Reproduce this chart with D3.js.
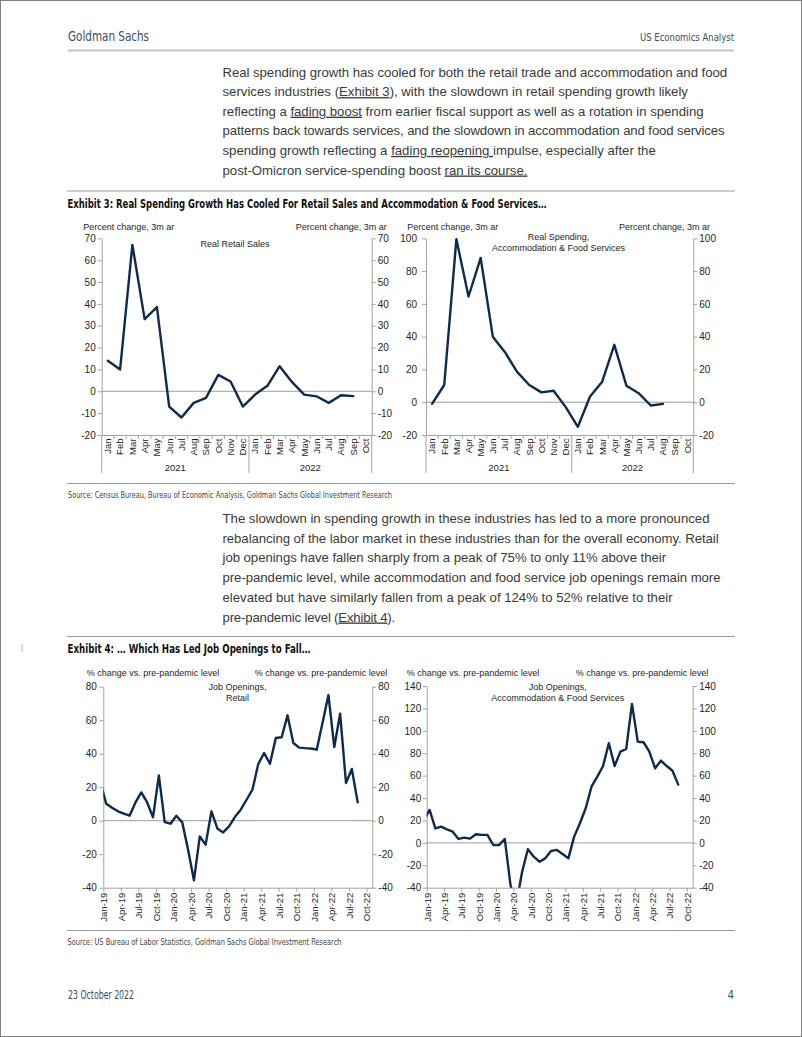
<!DOCTYPE html>
<html><head><meta charset="utf-8">
<script src="https://cdn.jsdelivr.net/npm/d3@7"></script>
<style>
html,body{margin:0;padding:0;background:#fff;}
svg{display:block;}
.para{font-family:"Liberation Sans",Arial,sans-serif;font-size:13.2px;fill:#3a3a3a;}
.cond{font-family:"Liberation Sans Narrow","DejaVu Sans Condensed","Roboto Condensed","Liberation Sans",sans-serif;}
.chart text{font-family:"Liberation Sans",Arial,sans-serif;font-size:9px;fill:#1e1e1e;}
.chart .yax .tick text{font-size:10px;}
.chart .xax .tick text{font-size:9.5px;}
.chart text.yr{font-size:9.5px;}
</style></head><body>
<svg id="page" width="802" height="1037"></svg>
<script>
// ---------- DATA ----------
const ex3Months = ["Jan","Feb","Mar","Apr","May","Jun","Jul","Aug","Sep","Oct","Nov","Dec",
                   "Jan","Feb","Mar","Apr","May","Jun","Jul","Aug","Sep","Oct"];
const ex3Years = ["2021","2022"];
// Real retail sales, % change 3m ar, Jan-21 .. Sep-22
const retailSales = [14, 10, 67, 33, 38.5, -7, -12, -5.3, -3, 7.5, 4.5, -7,
                     -1.5, 2.5, 11.5, 4.3, -1.5, -2.3, -5.3, -1.8, -2.2];
// Real spending, accommodation & food services, Jan-21 .. Aug-22
const accomSpending = [-1, 10.5, 99.5, 64.5, 88, 40, 30.5, 18.5, 10.5, 6, 7, -3,
                       -15, 3.5, 12.5, 35, 10, 5.5, -2, -1];
const retailSalesTicks = [-20,-10,0,10,20,30,40,50,60,70];
const accomSpendTicks = [-20,0,20,40,60,80,100];

const ex4TickLabels = ["Jan-19","Apr-19","Jul-19","Oct-19","Jan-20","Apr-20","Jul-20","Oct-20",
                       "Jan-21","Apr-21","Jul-21","Oct-21","Jan-22","Apr-22","Jul-22","Oct-22"];
// Job openings vs pre-pandemic level, monthly Dec-18 .. Aug-22
const retailJobs = [23, 10.1, 7.8, 5.6, 4.2, 3, 10.9, 16.9, 10.9, 2, 27, -0.8, -1.8,
                    3, -1, -17.3, -35.6, -9.4, -14.3, 5.6, -4.6, -7, -3.4, 2.2, 6.6,
                    12.5, 18.5, 33.8, 40.4, 34, 49.4, 49.8, 62.9, 46.4, 43.6, 43.3, 43.1,
                    42.4, 58.7, 75, 44, 63.9, 22.5, 30.9, 11];
const accomJobs = [20.4, 29.4, 13, 14.5, 12.1, 10, 3.5, 4.7, 3.8, 7.7, 7.1, 7.1, -1.9,
                   -2, 3.5, -38, -55, -25.7, -5.7, -12.3, -16.8, -13.8, -7.2, -6.3, -9.9,
                   -13.8, 5.6, 17.5, 30.9, 50.2, 59.1, 68.6, 88.9, 68.6, 81.4, 83.8, 124,
                   90.3, 89.8, 81.4, 66.6, 73.4, 68.6, 64.4, 52];
const retailJobsTicks = [-40,-20,0,20,40,60,80];
const accomJobsTicks = [-40,-20,0,20,40,60,80,100,120,140];

// ---------- PAGE ----------
const svg = d3.select("#page");
const NAVY = "#3b4d68", LINE = "#0e2b4d", AX = "#a3a3a3";

svg.append("rect").attr("x",0.5).attr("y",0.5).attr("width",801).attr("height",1036)
  .attr("fill","none").attr("stroke","#808080");

function ctext(x,y,t,size,w,opts={}){
  const el = svg.append("text").attr("class","cond").attr("x",x).attr("y",y).text(t)
    .style("font-size",size+"px").attr("fill",opts.fill||"#111")
    .attr("text-anchor",opts.anchor||"start");
  if(opts.bold) el.style("font-weight","bold");
  if(w) el.attr("textLength",w).attr("lengthAdjust","spacingAndGlyphs");
  return el;
}
ctext(68,40.5,"Goldman Sachs",13.5,81,{fill:NAVY});
ctext(734,41,"US Economics Analyst",11,94,{fill:NAVY,anchor:"end"});
svg.append("line").attr("x1",68).attr("x2",734).attr("y1",50.5).attr("y2",50.5)
  .attr("stroke","#c4c4c4").attr("stroke-width",2);
ctext(68,999,"23 October 2022",11.5,66,{fill:NAVY});
ctext(734,999,"4",11.5,null,{fill:NAVY,anchor:"end"});

function para(lines,x,y0,lh){
  lines.forEach((ln,i)=>{
    const t = svg.append("text").attr("class","para").attr("x",x).attr("y",y0+i*lh);
    let n = 0;
    ln.s.forEach(seg=>{
      const ts = t.append("tspan").text(seg[0]);
      n += seg[0].length;
      if(seg[1]) ts.style("text-decoration","underline");
    });
    if(ln.w){
      const nat = t.node().getComputedTextLength();
      const ls = ((ln.w - x) - nat) / n;
      t.style("letter-spacing", ls.toFixed(3)+"px");
    }
  });
}
para([
 {s:[["Real spending growth has cooled for both the retail trade and accommodation and food"]],w:727},
 {s:[["services industries ("],["Exhibit 3",1],["), with the slowdown in retail spending growth likely"]]},
 {s:[["reflecting a "],["fading boost",1],[" from earlier fiscal support as well as a rotation in spending"]],w:703.5},
 {s:[["patterns back towards services, and the slowdown in accommodation and food services"]],w:724.5},
 {s:[["spending growth reflecting a "],["fading reopening ",1],["impulse, especially after the"]]},
 {s:[["post-Omicron service-spending boost "],["ran its course.",1]]}
],222.5,76.5,19.6);

svg.append("line").attr("x1",67).attr("x2",735).attr("y1",191).attr("y2",191).attr("stroke","#9a9a9a").attr("stroke-width",1.2);
ctext(67.5,207.5,"Exhibit 3: Real Spending Growth Has Cooled For Retail Sales and Accommodation & Food Services…",12.5,479,{bold:true});
svg.append("line").attr("x1",67).attr("x2",735).attr("y1",483.5).attr("y2",483.5).attr("stroke","#9a9a9a").attr("stroke-width",1.2);
ctext(68,497.5,"Source: Census Bureau, Bureau of Economic Analysis, Goldman Sachs Global Investment Research",8.5,324,{fill:"#444"});

para([
 {s:[["The slowdown in spending growth in these industries has led to a more pronounced"]],w:709.5},
 {s:[["rebalancing of the labor market in these industries than for the overall economy. Retail"]],w:718.5},
 {s:[["job openings have fallen sharply from a peak of 75% to only 11% above their"]],w:666},
 {s:[["pre-pandemic level, while accommodation and food service job openings remain more"]],w:720.5},
 {s:[["elevated but have similarly fallen from a peak of 124% to 52% relative to their"]],w:672.5},
 {s:[["pre-pandemic level ("],["Exhibit 4",1],[")."]],w:395}
],222.5,523,19.7);

svg.append("line").attr("x1",67).attr("x2",735).attr("y1",636.5).attr("y2",636.5).attr("stroke","#9a9a9a").attr("stroke-width",1.2);
svg.append("line").attr("x1",22).attr("x2",22).attr("y1",644).attr("y2",652).attr("stroke","#b0b0b0").attr("stroke-width",1);
ctext(67.5,652.5,"Exhibit 4: … Which Has Led Job Openings to Fall…",12.5,243,{bold:true});
svg.append("line").attr("x1",67).attr("x2",735).attr("y1",930.5).attr("y2",930.5).attr("stroke","#9a9a9a").attr("stroke-width",1.2);
ctext(67.5,945,"Source: US Bureau of Labor Statistics, Goldman Sachs Global Investment Research",8.5,274,{fill:"#444"});

// ---------- CHART HELPERS ----------
function styleAxis(sel){
  sel.select(".domain").attr("stroke",AX).attr("stroke-width",1);
  sel.selectAll(".tick line").attr("stroke",AX);
  sel.selectAll(".tick text").attr("fill","#1e1e1e");
}
const fmt = d => String(d);
function yAxes(g,y,x0,x1,ticks,padL,padR){
  g.append("g").attr("class","yax").attr("transform",`translate(${x0},0)`)
    .call(d3.axisLeft(y).tickValues(ticks).tickFormat(fmt).tickSize(4).tickPadding(padL).tickSizeOuter(0)).call(styleAxis);
  g.append("g").attr("class","yax").attr("transform",`translate(${x1},0)`)
    .call(d3.axisRight(y).tickValues(ticks).tickFormat(fmt).tickSize(4).tickPadding(padR).tickSizeOuter(0)).call(styleAxis);
  g.append("line").attr("x1",x0).attr("x2",x1).attr("y1",y(0)).attr("y2",y(0))
    .attr("stroke","#9c9c9c").attr("stroke-width",1);
}
function titles(g,c){
  g.append("text").attr("x",c.tl[0]).attr("y",c.tl[1]).text(c.axisTitle);
  g.append("text").attr("x",c.tr[0]).attr("y",c.tr[1]).attr("text-anchor","end").text(c.axisTitle);
  c.title.forEach((t,i)=>g.append("text").attr("x",c.tc[0]).attr("y",c.tc[1]+i*c.tc[2])
    .attr("text-anchor","middle").text(t));
}

// Exhibit 3 style (category axis with year groups)
function catChart(c){
  const g = svg.append("g").attr("class","chart");
  const x = d3.scaleBand().domain(d3.range(ex3Months.length)).range([c.x0,c.x1]);
  const y = d3.scaleLinear().domain(c.yd).range([c.yb,c.yt]);
  yAxes(g,y,c.x0,c.x1,c.ticks,c.padL,c.padR);
  const xa = g.append("g").attr("class","xax").attr("transform",`translate(0,${c.yb})`)
    .call(d3.axisBottom(x).tickSize(0).tickSizeOuter(0).tickFormat(i=>ex3Months[i])).call(styleAxis);
  xa.selectAll(".tick text").attr("transform","rotate(-90)").attr("x",-3.5).attr("y",0)
    .attr("dy","0.35em").style("text-anchor","end");
  const bounds = d3.range(ex3Months.length+1);
  g.selectAll("line.bt").data(bounds).join("line").attr("class","bt")
    .attr("x1",i=>i<ex3Months.length?x(i):c.x1).attr("x2",i=>i<ex3Months.length?x(i):c.x1)
    .attr("y1",c.yb).attr("y2",i=>(i%12===0||i===ex3Months.length)?c.yg:c.yb+4)
    .attr("stroke",AX);
  ex3Years.forEach((yr,k)=>{
    const a = x(k*12), b = k===0? x(12) : c.x1;
    g.append("text").attr("class","yr").attr("x",(a+b)/2).attr("y",c.yg-2).attr("text-anchor","middle").text(yr);
  });
  titles(g,c);
  g.append("path").datum(c.data).attr("fill","none").attr("stroke",LINE).attr("stroke-width",2.4)
    .attr("stroke-linejoin","round").attr("stroke-linecap","round")
    .attr("d",d3.line().x((d,i)=>x(i)+x.bandwidth()/2).y(d=>y(d)));
}

// Exhibit 4 style (monthly date axis, Dec-18 first value)
function dateChart(c){
  const g = svg.append("g").attr("class","chart");
  const x = d3.scaleLinear().domain([0,46]).range([c.x0,c.x1]);
  const y = d3.scaleLinear().domain(c.yd).range([c.yb,c.yt]);
  yAxes(g,y,c.x0,c.x1,c.ticks,c.padL,c.padR);
  const xa = g.append("g").attr("class","xax").attr("transform",`translate(0,${c.yb})`)
    .call(d3.axisBottom(x).tickValues(d3.range(0,46,3)).tickSize(4).tickSizeOuter(0)
      .tickFormat((d,i)=>ex4TickLabels[i])).call(styleAxis);
  xa.selectAll(".tick text").attr("transform","rotate(-90)").attr("x",-5).attr("y",0)
    .attr("dy","0.35em").style("text-anchor","end");
  titles(g,c);
  const id = "clip"+c.id;
  g.append("clipPath").attr("id",id).append("rect")
    .attr("x",c.x0).attr("y",c.yt-5).attr("width",c.x1-c.x0).attr("height",c.yb-c.yt+5);
  g.append("path").datum(c.data).attr("clip-path",`url(#${id})`)
    .attr("fill","none").attr("stroke",LINE).attr("stroke-width",2.4)
    .attr("stroke-linejoin","round").attr("stroke-linecap","round")
    .attr("d",d3.line().x((d,i)=>x(i-1+0.5)).y(d=>y(d)));
}

catChart({data:retailSales,x0:101.7,x1:371.7,yb:435,yt:238.3,yd:[-20,70],ticks:retailSalesTicks,
  yg:473,padL:2,padR:2,axisTitle:"Percent change, 3m ar",tl:[83.3,229.5],tr:[386.7,229.5],
  title:["Real Retail Sales"],tc:[235,246.5,0]});
catChart({data:accomSpending,x0:426,x1:693.3,yb:435,yt:238.3,yd:[-20,100],ticks:accomSpendTicks,
  yg:473,padL:5,padR:2,axisTitle:"Percent change, 3m ar",tl:[407.3,229.5],tr:[710,229.5],
  title:["Real Spending,","Accommodation & Food Services"],tc:[558.5,240,11]});
dateChart({id:"a",data:retailJobs,x0:103.3,x1:372.3,yb:887.7,yt:686.7,yd:[-40,80],ticks:retailJobsTicks,
  padL:2.5,padR:2,axisTitle:"% change vs. pre-pandemic level",tl:[86.7,676],tr:[387.3,676],
  title:["Job Openings,","Retail"],tc:[237.5,690,10.5]});
dateChart({id:"b",data:accomJobs,x0:426.7,x1:692.7,yb:887.7,yt:686,yd:[-40,140],ticks:accomJobsTicks,
  padL:1.5,padR:2.5,axisTitle:"% change vs. pre-pandemic level",tl:[406.7,676],tr:[708.3,676],
  title:["Job Openings,","Accommodation & Food Services"],tc:[557.8,690,10.5]});
</script>
</body></html>
